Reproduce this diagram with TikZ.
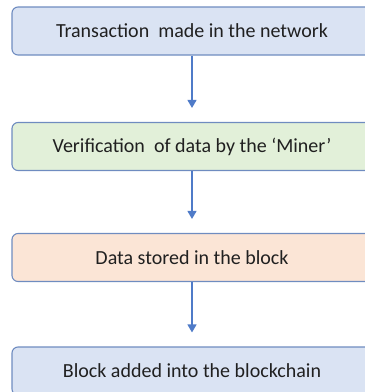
\documentclass[tikz,border=0pt]{standalone}
\usepackage{fontspec}
\setmainfont{Carlito}
\usetikzlibrary{arrows.meta}
\definecolor{boxline}{HTML}{6F8CC0}
\definecolor{flowblue}{HTML}{4F7BC8}
\definecolor{txtgrey}{HTML}{202020}
\definecolor{lightblue}{HTML}{DAE3F3}
\definecolor{lightgreen}{HTML}{E2F0D9}
\definecolor{lightpeach}{HTML}{FBE5D6}
\begin{document}
\begin{tikzpicture}[x=1pt,y=-1pt,
  stage/.style={draw=boxline,line width=1.1pt,rounded corners=6pt,minimum width=360pt,minimum height=48pt,inner sep=0pt,text=txtgrey,font=\fontsize{20}{24}\selectfont},
  flow/.style={-{Triangle[width=9pt,length=8pt]},draw=flowblue,line width=1.2pt,shorten >=14pt}]
 \useasboundingbox (0,0) rectangle (365,392);
 \clip (0,0) rectangle (365,392);
 % the four steps
 \node[stage,fill=lightblue] (tx) at (192,31) {Transaction~ made in the network};
 \node[stage,fill=lightgreen] (verify) at (192,146.5) {Verification~ of data by the `Miner'};
 \node[stage,fill=lightpeach] (store) at (192,257.5) {Data stored in the block};
 \node[stage,fill=lightblue] (chain) at (192,371) {Block added into the blockchain};
 % arrows between them
 \draw[flow] (tx) -- (verify);
 \draw[flow] (verify) -- (store);
 \draw[flow] (store) -- (chain);
\end{tikzpicture}
\end{document}
